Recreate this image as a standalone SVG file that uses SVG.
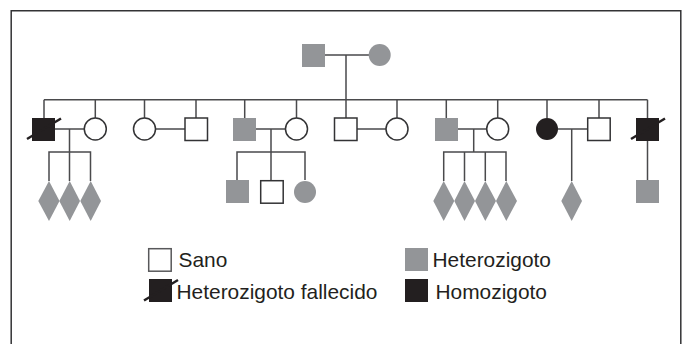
<svg xmlns="http://www.w3.org/2000/svg" width="683" height="344" viewBox="0 0 683 344">
<style>
text{font-family:"Liberation Sans",Arial,sans-serif;font-size:20.900px;fill:#231f20}
.l{fill:none;stroke:#4a4a4c;stroke-width:1.500}
.w{fill:#fff;stroke:#333335;stroke-width:1.500}
.g{fill:#939598}
.k{fill:#231f20}
.s{fill:none;stroke:#231f20;stroke-width:2.500}
</style>
<rect width="683" height="344" fill="#fff"/>
<path d="M11.200 344V10.800H680.800V344" fill="none" stroke="#333335" stroke-width="1.500"/>
<g id="connectors">
<path class="l" d="M325 55H369M346 55V99.700M44 99.700H647.500M44 99.700V118M95.300 99.700V118M144.500 99.700V118M196 99.700V118M244.700 99.700V118M296.500 99.700V118M346 99.700V118M397 99.700V118M446.300 99.700V118M497.700 99.700V118M547 99.700V118M599 99.700V118M647.500 99.700V118"/>
<path class="l" d="M55 129H84M155 129H185M256 129H285M357 129H386M458 129H487M558 129H588"/>
<path class="l" d="M69.500 129V181M49 181V152H90.500V181"/>
<path class="l" d="M271 129V180M237 180V152H305V180"/>
<path class="l" d="M473.700 129V152M443.700 181V152H506V181M464.500 152V181M485.300 152V181"/>
<path class="l" d="M571.700 129V181"/>
<path class="l" d="M647.500 141V180"/>
</g>
<g id="parent-father"><rect class="g" x="302" y="44" width="23" height="23"/></g>
<g id="parent-mother"><circle class="g" cx="379.700" cy="55" r="11"/></g>
<g id="n1"><rect class="k" x="32" y="118" width="23" height="23"/><path class="s" d="M27 139L61 118.500"/></g>
<g id="n2"><circle class="w" cx="95.300" cy="129" r="11"/></g>
<g id="n3"><circle class="w" cx="144.500" cy="129" r="11"/></g>
<g id="n4"><rect class="w" x="185" y="118" width="22.500" height="22.500"/></g>
<g id="n5"><rect class="g" x="233" y="118" width="23" height="23"/></g>
<g id="n6"><circle class="w" cx="296.500" cy="129" r="11"/></g>
<g id="n7"><rect class="w" x="334.500" y="118" width="22.500" height="22.500"/></g>
<g id="n8"><circle class="w" cx="397" cy="129" r="11"/></g>
<g id="n9"><rect class="g" x="435" y="118" width="23" height="23"/></g>
<g id="n10"><circle class="w" cx="497.700" cy="129" r="11"/></g>
<g id="n11"><circle class="k" cx="547" cy="129" r="11"/></g>
<g id="n12"><rect class="w" x="587.700" y="118" width="22.500" height="22.500"/></g>
<g id="n13"><rect class="k" x="636" y="118" width="23" height="23"/><path class="s" d="M631 139L665 118.500"/></g>
<g id="d1"><path class="g" d="M49 181L59.500 201L49 221L38.300 201Z"/></g>
<g id="d2"><path class="g" d="M69.700 181L80 201L69.700 221L59.300 201Z"/></g>
<g id="d3"><path class="g" d="M90.700 181L101 201L90.700 221L80.300 201Z"/></g>
<g id="c1"><rect class="g" x="226" y="180" width="23" height="23"/></g>
<g id="c2"><rect class="w" x="260.700" y="180.700" width="22.500" height="22.500"/></g>
<g id="c3"><circle class="g" cx="305" cy="192" r="11"/></g>
<g id="d4"><path class="g" d="M443.700 181L454.300 201L443.700 221L433.300 201Z"/></g>
<g id="d5"><path class="g" d="M464.500 181L475 201L464.500 221L454.300 201Z"/></g>
<g id="d6"><path class="g" d="M485.300 181L496 201L485.300 221L475 201Z"/></g>
<g id="d7"><path class="g" d="M506.300 181L517 201L506.300 221L496 201Z"/></g>
<g id="d8"><path class="g" d="M571.700 181L582 201L571.700 221L561.300 201Z"/></g>
<g id="c4"><rect class="g" x="636" y="180" width="23" height="23"/></g>
<g id="legend-sano"><rect x="148.700" y="248.700" width="22.500" height="22.500" fill="#fff" stroke="#58585a" stroke-width="1.500"/><text x="178.500" y="267">Sano</text></g>
<g id="legend-fallecido"><rect class="k" x="149" y="279" width="23" height="23"/><path class="s" d="M144 300.500L178 280"/><text x="176.500" y="299">Heterozigoto fallecido</text></g>
<g id="legend-hetero"><rect class="g" x="405" y="248" width="23" height="23"/><text x="432.500" y="267">Heterozigoto</text></g>
<g id="legend-homo"><rect class="k" x="405" y="279" width="23" height="23"/><text x="435.500" y="299">Homozigoto</text></g>
</svg>
